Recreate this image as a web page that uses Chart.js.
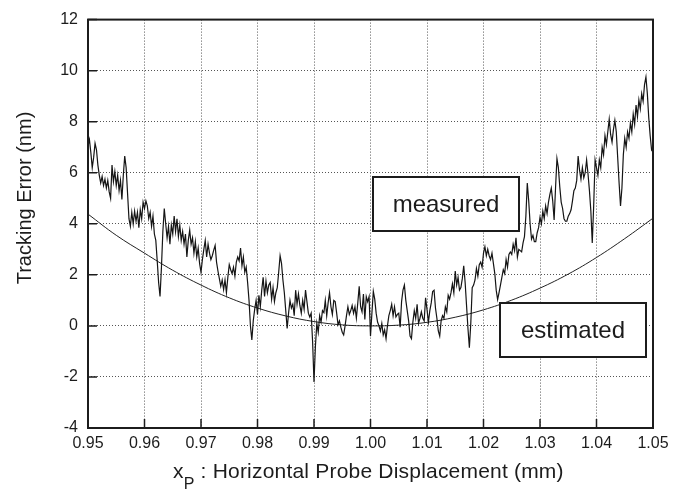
<!DOCTYPE html>
<html>
<head>
<meta charset="utf-8">
<script src="https://cdn.jsdelivr.net/npm/chart.js@4.4.1/dist/chart.umd.min.js"></script>
<style>
  body { margin: 0; background: #fff; }
  canvas { display: block; }
</style>
</head>
<body>
<canvas id="trackingChart" width="690" height="493"></canvas>
<script>
// measured trace, every 0.00025 mm from 0.95 to 1.05
const MEASURED_START = 0.95;
const MEASURED_STEP = 0.00025;
const measuredError = [
  7.07, 7.3, 6.8, 6.2, 6.6, 7.15, 6.9, 6.3, 5.9, 5.6,
  5.85, 5.5, 5.75, 5.4, 5.7, 5.25, 5.0, 6.3, 5.65, 6.05,
  5.5, 5.9, 5.3, 5.7, 4.95, 5.9, 6.65, 6.2, 5.2, 4.2,
  3.9, 4.45, 4.0, 4.5, 4.1, 4.45, 3.85, 4.55, 4.2, 4.85,
  4.6, 4.9, 4.7, 4.2, 4.45, 3.9, 4.3, 3.6, 3.35, 2.55,
  1.7, 1.15, 2.3, 3.7, 4.6, 4.0, 3.45, 3.9, 3.2, 3.95,
  3.6, 4.3, 3.7, 4.2, 3.5, 3.95, 3.35, 3.7, 3.2, 3.6,
  2.7, 3.35, 3.75, 3.2, 3.45, 2.85, 3.3, 2.7, 3.05, 2.45,
  2.1, 2.6, 3.0, 3.35, 2.7, 3.2, 2.85, 2.6, 2.75, 2.97,
  3.15, 2.5, 2.15, 1.85, 1.55, 1.8, 1.42, 1.8, 1.3, 1.9,
  2.4, 2.2, 2.05, 2.3, 1.95, 2.5, 2.7, 2.55, 3.05, 2.35,
  2.7, 2.1, 2.3, 1.7, 1.0, 0.0, -0.55, 0.2, 0.65, 1.0,
  0.45, 1.2, 0.75, 1.4, 1.9, 1.15, 1.75, 1.3, 1.6, 1.7,
  1.05, 1.5, 0.95, 1.3, 1.5, 2.1, 2.75, 2.45, 1.8, 1.3,
  0.6, -0.1, 0.5, 1.0, 0.7, 0.85, 0.4, 1.4, 0.85, 1.25,
  0.8, 0.5, 1.0, 0.65, 1.4, 0.95, 0.5, 0.35, 0.5, -0.6,
  -2.2, -0.8, 0.1, -0.25, 0.4, 0.15, 0.6, 0.52, 1.0, 0.4,
  0.9, 1.3, 0.75, 0.45, 1.0, 0.95, 0.52, 0.05, 0.2, -0.05,
  -0.25, -0.35, 0.0, 0.4, 0.75, 0.45, 0.6, 0.8, 0.5, 0.75,
  0.3, 0.9, 1.55, 0.75, 0.55, 1.25, 0.25, 1.15, 0.95, 1.15,
  -0.4, 0.5, 1.35, 1.05, 0.5, 0.15, 0.0, -0.2, 0.1, -0.35,
  -0.15, -0.5, 0.0, 0.4, 0.6, 0.85, 0.4, 0.75, 0.35, 0.45,
  0.5, -0.05, 0.95, 1.4, 1.6, 1.0, 0.6, 0.2, -0.4, -0.5,
  0.15, 0.6, 0.3, 0.85, 0.1, 0.3, 0.55, 0.3, 0.2, 1.1,
  0.65, 0.15, 0.6, 0.9, 1.35, 1.4, 0.7, 0.3, -0.2, -0.4,
  0.2, 0.4, 0.3, 0.75, 0.55, 1.2, 1.05, 1.3, 1.65, 1.3,
  2.15, 1.6, 1.9, 1.4, 1.5, 1.85, 2.35, 1.7, 0.8, -0.1,
  -0.85, 0.1, 1.5, 1.6, 1.8, 2.25, 1.95, 2.4, 2.5, 2.3,
  2.85, 3.1, 2.75, 3.0, 2.75, 2.6, 2.85, 2.45, 2.05, 1.4,
  1.03, 1.3, 1.6, 1.9, 2.2, 2.05, 2.6, 2.3, 2.8, 2.9,
  2.8, 3.2, 2.95, 3.45, 2.7, 3.0, 2.95, 2.9, 3.25, 3.5,
  4.3, 5.6, 4.9, 4.0, 3.4, 3.55, 3.3, 3.3, 3.65, 3.85,
  4.25, 4.0, 4.5, 4.2, 4.7, 4.4, 4.85, 5.15, 5.4, 4.9,
  4.15, 5.4, 6.55, 6.2, 5.45, 4.85, 4.6, 4.2, 4.1, 4.1,
  4.3, 4.4, 4.55, 4.9, 5.3, 5.4, 5.7, 6.65, 6.1, 5.75,
  6.2, 5.8, 6.0, 6.5, 5.95, 5.3, 4.5, 3.25, 4.7, 6.5,
  6.2, 5.9, 6.5, 6.2, 7.0, 6.7, 7.45, 7.1, 7.6, 8.1,
  7.5, 7.2, 7.7, 8.05, 7.6, 6.6, 5.6, 4.7, 5.4, 6.7,
  7.35, 7.0, 7.6, 7.35, 7.95, 7.6, 8.3, 7.9, 8.65, 8.2,
  8.85, 8.5, 9.1, 8.8, 9.45, 9.75, 9.1, 8.15, 7.45, 6.9,
  7.0
];

const estimatedX = [
  0.950, 0.955, 0.960, 0.965, 0.970, 0.975, 0.980, 0.985, 0.990, 0.995,
  1.000, 1.005, 1.010, 1.015, 1.020, 1.025, 1.030, 1.035, 1.040, 1.045, 1.050
];
const estimatedError = [
  4.38, 3.55, 2.85, 2.18, 1.6, 1.1, 0.7, 0.39, 0.17, 0.04,
  0.0, 0.03, 0.14, 0.34, 0.63, 1.01, 1.48, 2.03, 2.68, 3.42, 4.22
];

const X_MIN = 0.95, X_MAX = 1.05, X_STEP = 0.01;
const Y_MIN = -4, Y_MAX = 12, Y_STEP = 2;

const FONT = "'Liberation Sans', Arial, Helvetica, sans-serif";
const INK = "#1c1c1c";

const measuredPoints = measuredError.map((y, i) => ({ x: MEASURED_START + i * MEASURED_STEP, y: y }));
const estimatedPoints = estimatedX.map((x, i) => ({ x: x, y: estimatedError[i] }));

// frame, inward ticks, axis titles and the two boxed labels
const decorations = {
  id: "decorations",
  afterDatasetsDraw(chart) {
    const { ctx, chartArea: area, scales } = chart;
    ctx.save();

    ctx.strokeStyle = INK;
    ctx.lineWidth = 1.5;
    ctx.beginPath();
    scales.x.ticks.forEach(t => {
      const px = scales.x.getPixelForValue(t.value);
      ctx.moveTo(px, area.bottom);
      ctx.lineTo(px, area.bottom - 9);
    });
    scales.y.ticks.forEach(t => {
      const py = scales.y.getPixelForValue(t.value);
      ctx.moveTo(area.left, py);
      ctx.lineTo(area.left + 9, py);
    });
    ctx.stroke();

    ctx.lineWidth = 2;
    ctx.strokeRect(area.left, area.top, area.right - area.left, area.bottom - area.top);

    drawBox(ctx, 373, 177, 146, 54, "measured");
    drawBox(ctx, 500, 303, 146, 54, "estimated");

    ctx.fillStyle = INK;
    ctx.textBaseline = "alphabetic";

    // y title
    ctx.save();
    ctx.translate(31, 198);
    ctx.rotate(-Math.PI / 2);
    ctx.textAlign = "center";
    ctx.font = "20px " + FONT;
    ctx.fillText("Tracking Error (nm)", 0, 0);
    ctx.restore();

    // x title with subscript P
    ctx.textAlign = "left";
    ctx.letterSpacing = "0.2px";
    let x = 173;
    ctx.font = "21px " + FONT;
    ctx.fillText("x", x, 478);
    x += ctx.measureText("x").width;
    ctx.font = "16px " + FONT;
    ctx.fillText("P", x, 489);
    x += ctx.measureText("P").width;
    ctx.font = "21px " + FONT;
    ctx.fillText(" : Horizontal Probe Displacement (mm)", x, 478);

    ctx.restore();
  }
};

function drawBox(ctx, left, top, w, h, text) {
  ctx.fillStyle = "#fff";
  ctx.fillRect(left, top, w, h);
  ctx.strokeStyle = INK;
  ctx.lineWidth = 2;
  ctx.strokeRect(left, top, w, h);
  ctx.fillStyle = INK;
  ctx.font = "24px " + FONT;
  ctx.textAlign = "center";
  ctx.textBaseline = "middle";
  ctx.fillText(text, left + w / 2, top + h / 2 + 1);
}

new Chart(document.getElementById("trackingChart"), {
  type: "line",
  data: {
    datasets: [
      {
        label: "measured",
        data: measuredPoints,
        borderColor: "#151515",
        borderWidth: 1.2,
        pointRadius: 0,
        tension: 0
      },
      {
        label: "estimated",
        data: estimatedPoints,
        borderColor: "#222",
        borderWidth: 1,
        pointRadius: 0,
        tension: 0.4
      }
    ]
  },
  options: {
    responsive: false,
    animation: false,
    layout: { padding: { top: 13, right: 37, left: 0, bottom: 0 } },
    plugins: {
      legend: { display: false },
      tooltip: { enabled: false }
    },
    scales: {
      x: {
        type: "linear",
        min: X_MIN,
        max: X_MAX,
        afterFit: scale => { scale.height = 65; },
        ticks: {
          stepSize: X_STEP,
          autoSkip: false,
          maxRotation: 0,
          padding: 6,
          color: INK,
          font: { family: FONT, size: 16 },
          callback: v => v.toFixed(2)
        },
        grid: { color: "#555", lineWidth: 1, drawTicks: false },
        border: { display: false, dash: [1, 2] }
      },
      y: {
        min: Y_MIN,
        max: Y_MAX,
        afterFit: scale => { scale.width = 88; },
        ticks: {
          stepSize: Y_STEP,
          padding: 10,
          color: INK,
          font: { family: FONT, size: 16 }
        },
        grid: { color: "#555", lineWidth: 1, drawTicks: false },
        border: { display: false, dash: [1, 2] }
      }
    }
  },
  plugins: [decorations]
});
</script>
</body>
</html>
